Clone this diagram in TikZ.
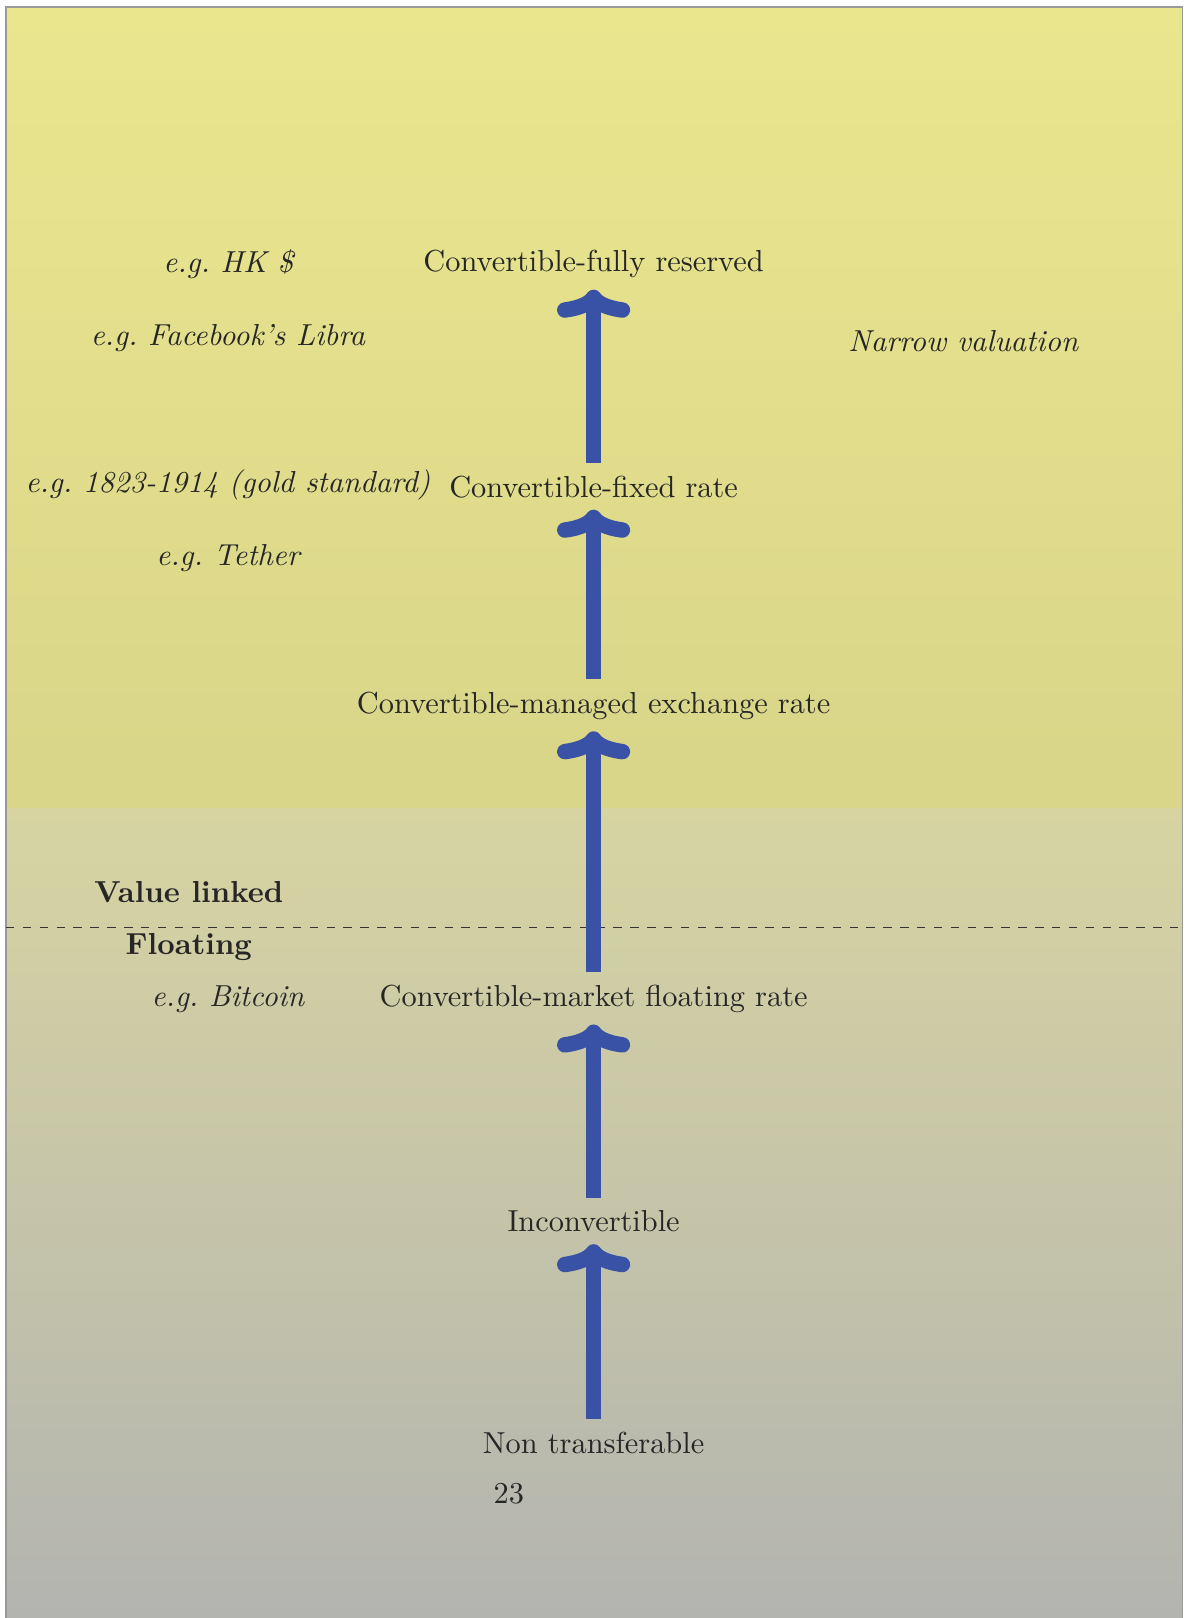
\documentclass[tikz,border=0pt]{standalone}
\usepackage{tikz}
\usetikzlibrary{arrows.meta}

\definecolor{topyel}{RGB}{234,230,142}
\definecolor{midyel}{RGB}{217,213,137}
\definecolor{midgry}{RGB}{215,212,162}
\definecolor{botgry}{RGB}{179,180,176}
\definecolor{arrblue}{RGB}{58,82,165}
\newcommand{\txtsize}{\fontsize{10.8pt}{13pt}\selectfont}

\begin{document}
\begin{tikzpicture}[
  lvl/.style={text=black!85, font=\txtsize, inner sep=3pt},
  ex/.style={text=black!85, font=\txtsize\itshape},
  side/.style={text=black!85, font=\txtsize\bfseries},
  bigarr/.style={draw=arrblue, line width=5.5pt, shorten >=1pt, shorten <=1.5pt,
    -{Computer Modern Rightarrow[length=10pt, width=26pt, round]}}]
\useasboundingbox (0,0) rectangle (14.8375,-20.225);
% background
\shade[top color=topyel, bottom color=midyel] (0.075,-0.0875) rectangle (14.78,-10.1);
\shade[top color=midgry, bottom color=botgry] (0.075,-10.1) rectangle (14.78,-20.225);
\draw[gray!80, line width=0.6pt] (0.075,-20.3) -- (0.075,-0.0875) -- (14.78,-0.0875) -- (14.78,-20.3);
% divider
\draw[dashed, black!80] (0.075,-11.59) -- (14.78,-11.59);
% levels
\node[lvl] (full) at (7.42,-3.3) {Convertible-fully reserved};
\node[lvl] (fixed) at (7.42,-6.085) {Convertible-fixed rate};
\node[lvl] (managed) at (7.42,-8.82) {Convertible-managed exchange rate};
\node[lvl] (market) at (7.42,-12.485) {Convertible-market floating rate};
\node[lvl] (inconv) at (7.42,-15.27) {Inconvertible};
\node[lvl] (nontr) at (7.42,-18.035) {Non transferable};
\node[lvl] (num) at (6.36,-18.67) {23};
% examples
\node[ex] (hk) at (2.85,-3.3) {e.g.\ HK \$};
\node[ex] (libra) at (2.85,-4.22) {e.g.\ Facebook's Libra};
\node[ex] (gold) at (2.85,-6.06) {e.g.\ 1823-1914 (gold standard)};
\node[ex] (tether) at (2.85,-6.97) {e.g.\ Tether};
\node[ex] (btc) at (2.85,-12.485) {e.g.\ Bitcoin};
\node[ex] (narrow) at (12.04,-4.26) {Narrow valuation};
\node[side] (vlink) at (2.36,-11.15) {Value linked};
\node[side] (flt) at (2.36,-11.835) {Floating};
% arrows
\draw[bigarr] (nontr) -- (inconv);
\draw[bigarr] (inconv) -- (market);
\draw[bigarr] (market) -- (managed);
\draw[bigarr] (managed) -- (fixed);
\draw[bigarr] (fixed) -- (full);
\end{tikzpicture}
\end{document}
